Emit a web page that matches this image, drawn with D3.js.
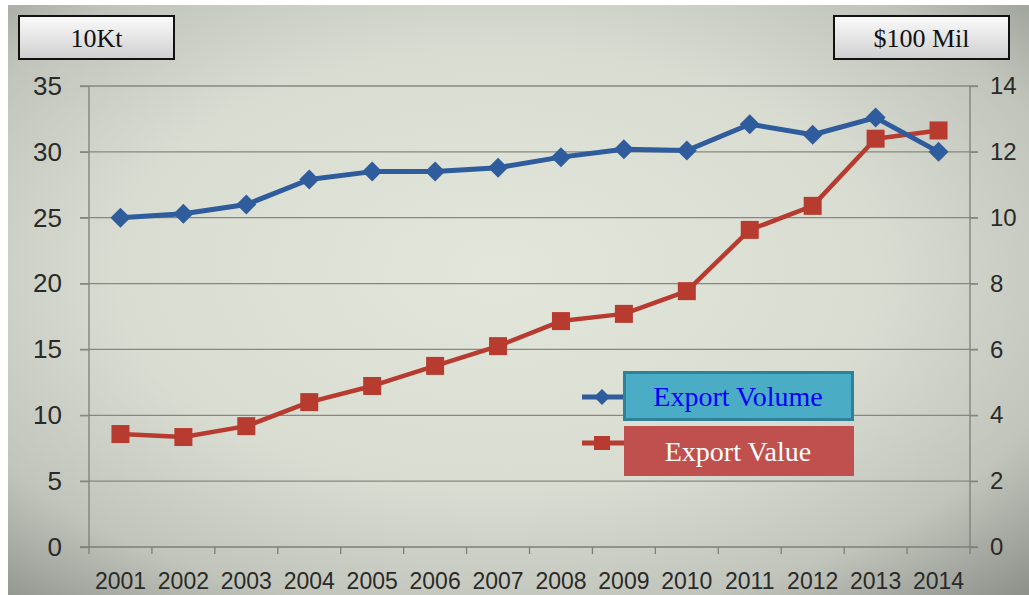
<!DOCTYPE html>
<html><head><meta charset="utf-8">
<script src="https://cdn.jsdelivr.net/npm/d3@7"></script>
<style>body{margin:0;background:#fff;}svg{display:block;}</style>
</head><body>
<svg id="c" width="1029" height="595"></svg>
<script>
const years = ["2001","2002","2003","2004","2005","2006","2007","2008","2009","2010","2011","2012","2013","2014"];
const exportVolume = [25.0,25.3,26.0,27.9,28.5,28.5,28.8,29.6,30.2,30.1,32.1,31.3,32.6,30.0];
const exportValue = [3.43,3.34,3.67,4.40,4.89,5.50,6.10,6.86,7.08,7.77,9.63,10.36,12.40,12.65];
const leftTicks = [0,5,10,15,20,25,30,35];
const rightTicks = [0,2,4,6,8,10,12,14];
const leftUnit = "10Kt";
const rightUnit = "$100 Mil";
const seriesNames = ["Export Volume","Export Value"];

const svg = d3.select("#c");
const defs = svg.append("defs");
const bg = defs.append("radialGradient").attr("id","bg").attr("cx","0.48").attr("cy","0.45").attr("r","0.75");
[[0,"#e3e7db"],[0.5,"#d9dcd1"],[0.78,"#c1c4bb"],[1,"#8f928b"]].forEach(s=>bg.append("stop").attr("offset",s[0]).attr("stop-color",s[1]));
const bx = defs.append("linearGradient").attr("id","bx").attr("x1",0).attr("y1",0).attr("x2",0).attr("y2",1);
[[0,"#fbfbfb"],[1,"#cfcfcf"]].forEach(s=>bx.append("stop").attr("offset",s[0]).attr("stop-color",s[1]));

svg.append("rect").attr("x",8).attr("y",5).attr("width",1021).attr("height",590).attr("fill","url(#bg)");

const x = d3.scaleBand().domain(years).range([89,970]).padding(0);
const yL = d3.scaleLinear().domain([0,35]).range([547,86]);
const yR = d3.scaleLinear().domain([0,14]).range([547,86]);
const cx = d => x(d) + x.bandwidth()/2;

// gridlines
svg.append("g").selectAll("line").data(leftTicks.filter(t=>t>0)).join("line")
  .attr("x1",80).attr("x2",978).attr("y1",d=>yL(d)).attr("y2",d=>yL(d))
  .attr("stroke","#86887f").attr("stroke-width",1.3);

// left axis
const gl = svg.append("g").attr("transform","translate(89,0)")
  .call(d3.axisLeft(yL).tickValues(leftTicks).tickSize(9).tickPadding(18));
gl.select(".domain").attr("stroke","#7d7f77").attr("stroke-width",1.3).attr("d","M0,86V547");
gl.selectAll(".tick line").attr("stroke","#86887f").attr("stroke-width",1.3);
gl.selectAll("text").attr("font-family","Liberation Sans, Arial, sans-serif").attr("font-size",26).attr("fill","#2a2a28");

// right axis
const gr = svg.append("g").attr("transform","translate(970,0)")
  .call(d3.axisRight(yR).tickValues(rightTicks).tickSize(8).tickPadding(12));
gr.select(".domain").attr("stroke","#7d7f77").attr("stroke-width",1.3).attr("d","M0,86V547");
gr.selectAll(".tick line").attr("stroke","#86887f").attr("stroke-width",1.3);
gr.selectAll("text").attr("font-family","Liberation Sans, Arial, sans-serif").attr("font-size",24).attr("fill","#2a2a28");

// x axis
const gx = svg.append("g").attr("transform","translate(0,547)")
  .call(d3.axisBottom(x).tickSize(0).tickPadding(42));
gx.select(".domain").attr("stroke","#7d7f77").attr("stroke-width",1.5).attr("d","M80,0H978");
gx.selectAll("text").attr("font-family","Liberation Sans, Arial, sans-serif").attr("font-size",23).attr("fill","#2a2a28").attr("dy","0");
gx.append("g").selectAll("line").data(years.concat(["end"])).join("line")
  .attr("x1",(d,i)=>89+i*x.bandwidth()).attr("x2",(d,i)=>89+i*x.bandwidth())
  .attr("y1",0).attr("y2",7).attr("stroke","#7d7f77").attr("stroke-width",1.3);

const blue = "#2e5c9c", red = "#b83b30";

// value line (red)
svg.append("path").datum(exportValue)
  .attr("d", d3.line().x((d,i)=>cx(years[i])).y(d=>yR(d)))
  .attr("fill","none").attr("stroke",red).attr("stroke-width",4.5).attr("stroke-linejoin","round");
svg.append("g").selectAll("rect").data(exportValue).join("rect")
  .attr("x",(d,i)=>cx(years[i])-9).attr("y",d=>yR(d)-9).attr("width",18).attr("height",18).attr("fill",red);

// volume line (blue)
svg.append("path").datum(exportVolume)
  .attr("d", d3.line().x((d,i)=>cx(years[i])).y(d=>yL(d)))
  .attr("fill","none").attr("stroke",blue).attr("stroke-width",5).attr("stroke-linejoin","round");
const diamond = (px,py,r)=>`M${px},${py-r}L${px+r},${py}L${px},${py+r}L${px-r},${py}Z`;
svg.append("g").selectAll("path").data(exportVolume).join("path")
  .attr("d",(d,i)=>diamond(cx(years[i]),yL(d),10)).attr("fill",blue);

// legend
svg.append("line").attr("x1",582).attr("x2",626).attr("y1",397).attr("y2",397).attr("stroke",blue).attr("stroke-width",5);
svg.append("path").attr("d",diamond(602,397,8)).attr("fill",blue);
svg.append("line").attr("x1",582).attr("x2",626).attr("y1",443).attr("y2",443).attr("stroke",red).attr("stroke-width",5);
svg.append("rect").attr("x",594).attr("y",436).attr("width",16).attr("height",14).attr("fill",red);

svg.append("rect").attr("x",624.5).attr("y",372.5).attr("width",228).attr("height",47)
  .attr("fill","#4bacc6").attr("stroke","#2f8197").attr("stroke-width",3);
svg.append("text").attr("x",738).attr("y",406).attr("text-anchor","middle")
  .attr("font-family","Liberation Serif, Times New Roman, serif").attr("font-size",28).attr("fill","#0000ff").text(seriesNames[0]);
svg.append("rect").attr("x",624).attr("y",426).attr("width",230).attr("height",50).attr("fill","#c0504d");
svg.append("text").attr("x",738).attr("y",461).attr("text-anchor","middle")
  .attr("font-family","Liberation Serif, Times New Roman, serif").attr("font-size",28).attr("fill","#ffffff").text(seriesNames[1]);

// unit boxes
[[18,15,157,45,leftUnit],[833,15,177,45,rightUnit]].forEach(b=>{
  svg.append("rect").attr("x",b[0]+1).attr("y",b[1]+1).attr("width",b[2]-2).attr("height",b[3]-2)
    .attr("fill","url(#bx)").attr("stroke","#111").attr("stroke-width",2);
  svg.append("text").attr("x",b[0]+b[2]/2).attr("y",b[1]+b[3]/2+9).attr("text-anchor","middle")
    .attr("font-family","Liberation Serif, Times New Roman, serif").attr("font-size",26).attr("fill","#111").text(b[4]);
});
</script>
</body></html>
